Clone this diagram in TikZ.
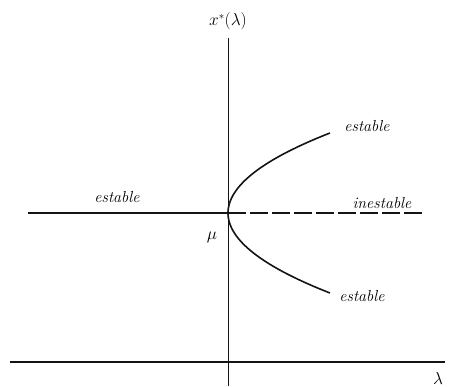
\documentclass[tikz,border=0pt]{standalone}
\usepackage{amsmath,amssymb}
\usepackage{xcolor}
\usepackage{tikz}
\usetikzlibrary{arrows.meta,positioning}
\definecolor{bif_ink}{RGB}{20,20,20}

\begin{document}
\begin{tikzpicture}[x=1pt, y=-1pt, font=\fontsize{16}{19}\selectfont\itshape,
    branch/.style={line width=1.6pt, bif_ink}]
        \useasboundingbox (0,0) rectangle (452,386);
        % axes
        \coordinate (vtop) at (228,38);
        \coordinate (vbot) at (228,386);
        \coordinate (hleft) at (10,362);
        \coordinate (hright) at (445,362);
        \draw[line width=0.9pt, bif_ink] (vtop) -- (vbot);
        \draw[line width=1.5pt, bif_ink] (hleft) -- (hright);
        % equilibrium x* = 0
        \coordinate (left) at (28,213);
        \coordinate (mu) at (228,213);
        \coordinate (right) at (425,213);
        \draw[line width=1.8pt, bif_ink] (left) -- (mu);
        \draw[line width=1.5pt, bif_ink, dash pattern=on 18pt off 4pt] (mu) -- (right);
        % pitchfork branches
        \draw[branch, domain=-80:80, samples=60, smooth]
          plot ({228+102/6400*\x*\x}, {213+\x});
        % labels
        \node (axis) at (228,21) {$x^{*}(\lambda)$};
        \node (lam) at (438,378) {$\lambda$};
        \node (mulab) at (212,237) {$\mu$};
        \node (stleft) at (117,197) {estable};
        \node (unst) at (382,203) {inestable};
        \node (stup) at (367,126) {estable};
        \node (stdown) at (362,296) {estable};
      \end{tikzpicture}
\end{document}
